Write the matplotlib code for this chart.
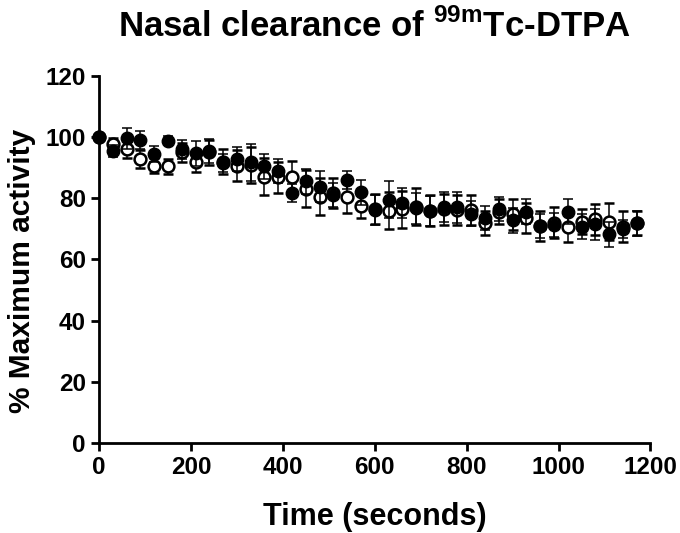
import numpy as np
import matplotlib.pyplot as plt

plt.rcParams['font.family'] = ['Liberation Sans', 'DejaVu Sans']
plt.rcParams['font.weight'] = 'bold'
plt.rcParams['mathtext.fontset'] = 'custom'
plt.rcParams['mathtext.rm'] = 'Liberation Sans:bold'
plt.rcParams['mathtext.bf'] = 'Liberation Sans:bold'

# time points (s)
time = np.arange(0, 1200, 30)

filled = [100, 95.5, 99.6, 99.1, 94.5, 98.8, 96.0, 94.7, 95.5, 91.5,
          92.9, 91.8, 90.4, 88.9, 81.7, 85.5, 83.8, 81.1, 86.0, 81.9,
          76.2, 79.5, 78.4, 76.7, 75.9, 77.1, 77.0, 75.0, 73.6, 76.5,
          72.8, 75.6, 71.0, 71.3, 75.6, 70.7, 71.5, 68.2, 69.9, 71.8]
filled_err = [0, 2, 3.5, 3, 2.5, 1.5, 3, 4, 4, 3,
              4, 6, 4, 4, 3, 4, 5, 4, 3, 4,
              5, 6, 5, 5, 5, 5, 5, 4, 4, 4,
              4, 4, 4, 4, 4, 4, 5, 4, 3, 4]

open_ = [100, 97.7, 96.1, 92.8, 90.7, 90.4, 95.0, 92.0, 95.0, 92.0,
         90.7, 90.9, 87.1, 86.8, 87.1, 83.1, 80.5, 81.7, 80.3, 77.5,
         76.5, 75.9, 76.4, 77.3, 76.0, 76.4, 76.2, 76.2, 72.0, 75.6,
         74.7, 73.5, 71.0, 72.0, 70.7, 72.4, 73.1, 72.4, 70.7, 72.0]
open_err = [0, 2, 3, 3, 2.5, 2.5, 3, 3.5, 4, 4,
            5, 6, 6, 5, 5, 6, 6, 5, 5, 4,
            5, 6, 6, 6, 5, 5, 5, 5, 4, 4,
            5, 5, 5, 5, 5, 4, 5, 6, 5, 4]

fig = plt.figure(figsize=(6.8, 5.33), dpi=100)
ax = fig.add_axes([0.1456, 0.169, 0.811, 0.6885])

ax.errorbar(time, open_, yerr=open_err, fmt='o', color='black', mfc='white',
            mec='black', mew=1.8, ms=8.5, elinewidth=1.1, capsize=3.6,
            capthick=1.1, clip_on=False, zorder=3)
ax.errorbar(time, filled, yerr=filled_err, fmt='o', color='black', mfc='black',
            mec='black', ms=9, elinewidth=1.1, capsize=3.6,
            capthick=1.1, clip_on=False, zorder=4)

ax.set_xlim(0, 1200)
ax.set_ylim(0, 120)
ax.set_xticks(range(0, 1201, 200))
ax.set_yticks(range(0, 121, 20))

for s in ['top', 'right']:
    ax.spines[s].set_visible(False)
for s in ['left', 'bottom']:
    ax.spines[s].set_linewidth(2.0)
ax.tick_params(width=2.0, length=5.5, labelsize=17.5, direction='out', pad=4)
for lab in ax.get_xticklabels() + ax.get_yticklabels():
    lab.set_fontweight('bold')

ax.set_xlabel('Time (seconds)', fontsize=22, fontweight='bold')
ax.set_ylabel('% Maximum activity', fontsize=21.5, fontweight='bold')
ax.xaxis.set_label_coords(0.5, -0.16)
ax.yaxis.set_label_coords(-0.115, 0.47)
ax.set_title(r'Nasal clearance of $^{\mathrm{99m}}$Tc-DTPA', fontsize=25,
             fontweight='bold', pad=28)

fig.savefig('out.png', dpi=100)
